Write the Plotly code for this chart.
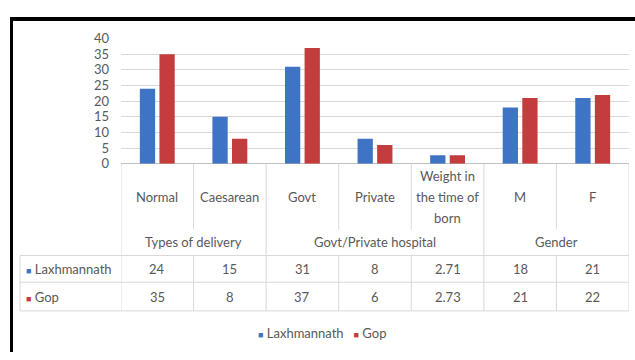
import plotly.graph_objects as go

# ---------------- data ----------------
categories = ["Normal", "Caesarean", "Govt", "Private", "Weight in<br>the time of<br>born", "M", "F"]
groups = ["Types of delivery", "Govt/Private hospital", "Gender"]
group_sizes = [2, 3, 2]
series_names = ["Laxhmannath", "Gop"]
laxhmannath = [24, 15, 31, 8, 2.71, 18, 21]
gop = [35, 8, 37, 6, 2.73, 21, 22]
y_ticks = [0, 5, 10, 15, 20, 25, 30, 35, 40]

colors = ["#3f74c5", "#c33d3c"]
series_values = [laxhmannath, gop]

W, H = 635, 360
FONT = "Lato"
TXT = "#595959"
GRID = "#d9d9d9"


def px(x):
    return x / W


def py(y):
    return 1 - y / H


fig = go.Figure()
xs = list(range(len(categories)))
for name, vals, col in zip(series_names, series_values, colors):
    fig.add_trace(go.Bar(x=xs, y=vals, name=name, marker=dict(color=col, line=dict(width=0)),
                         showlegend=False))

shapes = []
annotations = []

# table geometry (pixel rows)
TOP, CAT_BOTTOM, GROUP_BOTTOM, ROW1_BOTTOM, ROW2_BOTTOM = 163, 232, 259, 287, 317
LEFT_COL = 20
line_style = dict(color=GRID, width=1)

group_bounds = [0]
for s in group_sizes:
    group_bounds.append(group_bounds[-1] + s)

for i in range(len(categories) + 1):
    xb = i - 0.5
    if i in group_bounds:
        shapes.append(dict(type="line", xref="x", yref="paper", x0=xb, x1=xb,
                           y0=py(TOP), y1=py(ROW2_BOTTOM), line=line_style))
    else:
        shapes.append(dict(type="line", xref="x", yref="paper", x0=xb, x1=xb,
                           y0=py(TOP), y1=py(CAT_BOTTOM), line=line_style))
        shapes.append(dict(type="line", xref="x", yref="paper", x0=xb, x1=xb,
                           y0=py(GROUP_BOTTOM), y1=py(ROW2_BOTTOM), line=line_style))

for yy in [GROUP_BOTTOM, ROW1_BOTTOM, ROW2_BOTTOM]:
    shapes.append(dict(type="line", xref="paper", yref="paper", x0=px(LEFT_COL), x1=px(629),
                       y0=py(yy), y1=py(yy), line=line_style))
shapes.append(dict(type="line", xref="paper", yref="paper", x0=px(LEFT_COL), x1=px(LEFT_COL),
                   y0=py(GROUP_BOTTOM), y1=py(ROW2_BOTTOM), line=line_style))

# outer frame (top & left visible)
shapes.append(dict(type="line", xref="paper", yref="paper", x0=px(10), x1=1,
                   y0=py(11.5), y1=py(11.5), line=dict(color="black", width=4)))
shapes.append(dict(type="line", xref="paper", yref="paper", x0=px(11.5), x1=px(11.5),
                   y0=py(10), y1=0, line=dict(color="black", width=3)))

fs = 13
# category labels
for i, cat in enumerate(categories):
    parts = cat.split("<br>")
    n = len(parts)
    for k, part in enumerate(parts):
        yy = 198 + (k - (n - 1) / 2) * 22
        annotations.append(dict(x=i, y=py(yy), xref="x", yref="paper", text=part, showarrow=False,
                                xanchor="center", yanchor="middle", font=dict(family=FONT, size=fs, color=TXT)))
# group labels
for g, (gname, start) in enumerate(zip(groups, group_bounds[:-1])):
    center = start + (group_sizes[g] - 1) / 2
    annotations.append(dict(x=center, y=py(245), xref="x", yref="paper", text=gname, showarrow=False,
                            xanchor="center", yanchor="middle", font=dict(family=FONT, size=fs, color=TXT)))
# values
row_y = [273, 302]
for r, vals in enumerate(series_values):
    for i, v in enumerate(vals):
        annotations.append(dict(x=i, y=py(row_y[r]), xref="x", yref="paper", text=f"{v:g}", showarrow=False,
                                xanchor="center", yanchor="middle", font=dict(family=FONT, size=fs, color=TXT)))
    annotations.append(dict(x=px(24), y=py(row_y[r]), xref="paper", yref="paper",
                            text=f"<span style='color:{colors[r]};font-size:9px'>■</span> {series_names[r]}",
                            showarrow=False, xanchor="left", yanchor="middle",
                            font=dict(family=FONT, size=fs, color=TXT)))

# bottom legend
legend_text = "&nbsp;&nbsp;&nbsp;".join(
    f"<span style='color:{c};font-size:9px'>■</span> {n}" for n, c in zip(series_names, colors))
annotations.append(dict(x=px(322), y=py(340), xref="paper", yref="paper", text=legend_text,
                        showarrow=False, xanchor="center", yanchor="middle",
                        font=dict(family=FONT, size=fs, color=TXT)))

fig.update_layout(
    width=W, height=H,
    margin=dict(l=0, r=0, t=0, b=0),
    paper_bgcolor="white", plot_bgcolor="white",
    barmode="group", bargap=0.46, bargroupgap=0.22,
    xaxis=dict(domain=[px(121), px(629)], range=[-0.5, len(categories) - 0.5],
               showticklabels=False, showgrid=False, zeroline=False, showline=False, fixedrange=True),
    yaxis=dict(domain=[py(163), py(32)], range=[0, 40], tickvals=y_ticks,
               showgrid=True, gridcolor=GRID, gridwidth=1,
               zeroline=True, zerolinecolor="#bfbfbf", zerolinewidth=1,
               tickfont=dict(family=FONT, size=fs, color=TXT), ticklabelstandoff=11),
    shapes=shapes, annotations=annotations,
    font=dict(family=FONT, size=fs, color=TXT),
)

fig.write_html("out.html")
